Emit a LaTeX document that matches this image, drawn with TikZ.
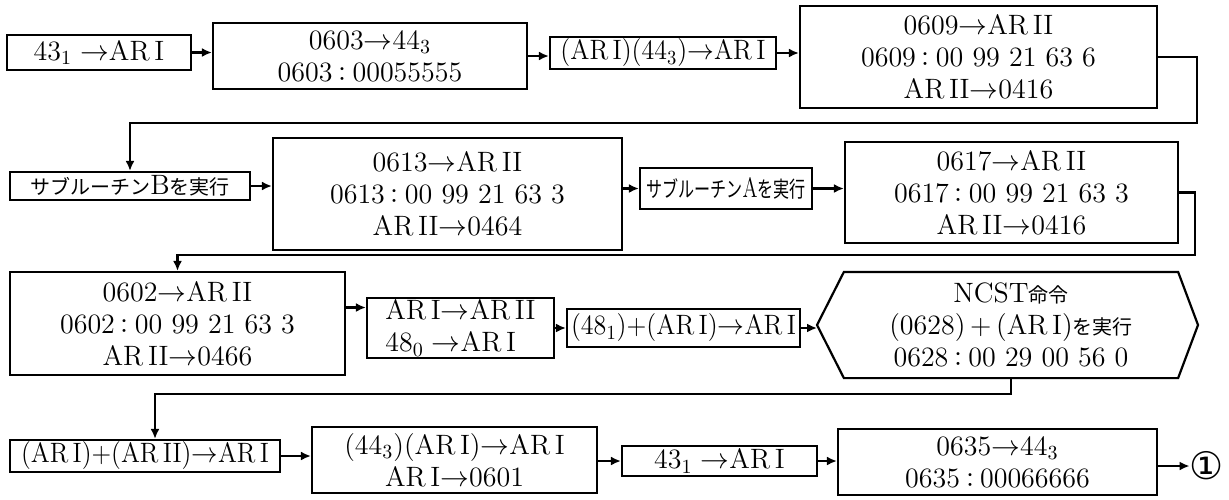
\documentclass[tikz,border=0pt]{standalone}
\usepackage{fontspec}
\usepackage{graphicx}
\usetikzlibrary{positioning,arrows.meta,calc}
\newfontfamily\cjk{Noto Sans CJK JP}
\newfontfamily\dejavu{DejaVu Sans}
\newcommand{\jp}[1]{{\cjk\fontsize{10}{12}\selectfont #1}}
\newcommand{\ari}{AR\,I}
\newcommand{\arii}{AR\,II}
\newcommand{\cln}{\jp{：}}
\tikzset{
  box/.style={draw, line width=1.1pt, align=center, inner xsep=2pt, inner ysep=1pt,
    font=\fontsize{14}{16}\selectfont},
  flow/.style={->, line width=1.1pt},
}

\begin{document}
\begin{tikzpicture}[x=0.5pt, y=-0.5pt, >={Latex[length=5pt,width=4.5pt]}]
  \useasboundingbox (0,0) rectangle (1229,499);
  % first row
  \node[box, minimum width=92pt, minimum height=17.5pt] (a1) at (99,52.5) {43$_1\rightarrow$\ari};
  \node[box, minimum width=157pt, minimum height=33pt] (a2) at (370,56) {0603$\rightarrow$44$_3$\\ 0603\cln 00055555};
  \node[box, minimum width=113pt, minimum height=15pt] (a3) at (663,53) {\scalebox{0.93}[1]{(\ari)(44$_3$)$\rightarrow$\ari}};
  \node[box, minimum width=178.5pt, minimum height=51pt] (a4) at (978.5,57) {0609$\rightarrow$\arii\\ 0609\cln 00 99 21 63 6\\ \arii$\rightarrow$0416};
  % second row
  \node[box, minimum width=120pt, minimum height=14pt] (b1) at (130,186) {\jp{サブルーチン}B\jp{を実行}};
  \node[box, minimum width=174.5pt, minimum height=56pt] (b2) at (447.5,194) {0613$\rightarrow$\arii\\ 0613\cln 00 99 21 63 3\\ \arii$\rightarrow$0464};
  \node[box, minimum width=86pt, minimum height=20.5pt, inner xsep=1pt] (b3) at (726,188.5) {\scalebox{0.73}[1]{{\cjk\fontsize{11}{12}\selectfont サブルーチン}A{\cjk\fontsize{11}{12}\selectfont を実行}}};
  \node[box, minimum width=166.5pt, minimum height=50.5pt] (b4) at (1011.5,192.5) {0617$\rightarrow$\arii\\ 0617\cln 00 99 21 63 3\\ \arii$\rightarrow$0416};
  % third row
  \node[box, minimum width=167.5pt, minimum height=51.5pt] (c1) at (177.5,323.5) {0602$\rightarrow$\arii\\ 0602\cln 00 99 21 63 3\\ \arii$\rightarrow$0466};
  \node[box, align=left, minimum width=93.5pt, minimum height=30pt] (c2) at (460.5,328) {\ari$\rightarrow$\arii\\ 48$_0\rightarrow$\ari};
  \node[box, minimum width=107.5pt, minimum height=19pt] (c3) at (683.5,328) {\scalebox{0.93}[1]{(48$_1$)+(\ari)$\rightarrow$\ari}};
  \node[box, draw=none, minimum width=166pt, minimum height=52pt] (c4) at (1011,325) {NCST\jp{命令}\\ (0628)\,+\,(\ari)\jp{を実行}\\ 0628\cln 00 29 00 56 0};
  \coordinate (c4l) at (817,325);
  \coordinate (c4r) at (1198,325);
  \draw[line width=1.1pt] (c4.north west) -- (c4.north east) -- (c4r) -- (c4.south east)
    -- (c4.south west) -- (c4l) -- cycle;
  % fourth row
  \node[box, minimum width=135pt, minimum height=14pt] (d1) at (145,456) {\scalebox{0.92}[1]{(\ari)+(\arii)$\rightarrow$\ari}};
  \node[box, minimum width=142.5pt, minimum height=33pt] (d2) at (454.5,460) {(44$_3$)(\ari)$\rightarrow$\ari\\ \ari$\rightarrow$0601};
  \node[box, minimum width=97.5pt, minimum height=15pt] (d3) at (719.5,461) {43$_1\rightarrow$\ari};
  \node[box, minimum width=159.5pt, minimum height=33pt] (d4) at (997.5,462) {0635$\rightarrow$44$_3$\\ 0635\cln 00066666};
  \node[font=\dejavu\fontsize{19}{19}\selectfont, inner sep=0pt] (one) at (1207,466) {①};
  % connectors
  \draw[flow] (a1.east) -- (a1.east -| a2.west);
  \draw[flow] (a2.east) -- (a2.east -| a3.west);
  \draw[flow] (a3.east) -- (a3.east -| a4.west);
  \coordinate (r1) at (1197,123);
  \draw[flow] (a4.east) -| (r1) -| (b1.north);
  \draw[flow] (b1.east) -- (b1.east -| b2.west);
  \draw[flow] (b3.west -| b2.east) -- (b3.west);
  \draw[flow] (b3.east) -- (b3.east -| b4.west);
  \coordinate (r2) at (1195,255);
  \draw[flow] (b4.east) -| (r2) -| (c1.north);
  \draw[flow] ([yshift=8pt]c1.east) -- ([yshift=8pt]c1.east -| c2.west);
  \draw[flow] (c2.east) -- (c2.east -| c3.west);
  \draw[flow] (c3.east) -- (c3.east -| c4l);
  \coordinate (r3) at (1011,394);
  \draw[flow] (c4.south) -- (r3) -| ([xshift=5pt]d1.north);
  \draw[flow] (d1.east) -- (d1.east -| d2.west);
  \draw[flow] (d3.west -| d2.east) -- (d3.west);
  \draw[flow] (d3.east) -- (d3.east -| d4.west);
  \draw[flow] (d4.east |- one) -- (one.west);
\end{tikzpicture}
\end{document}
